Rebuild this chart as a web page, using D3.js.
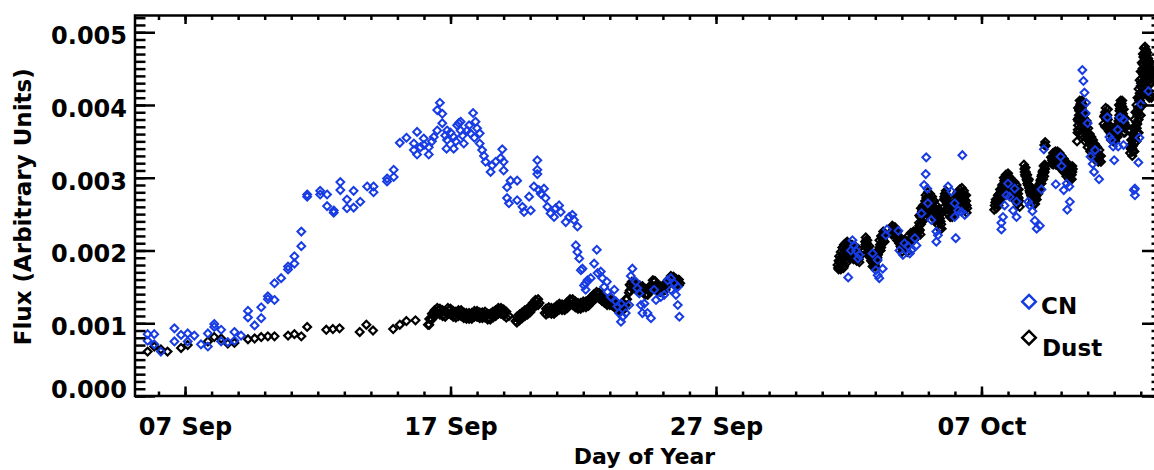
<!DOCTYPE html>
<html><head><meta charset="utf-8">
<script src="https://cdn.jsdelivr.net/npm/d3@7"></script>
<style>
body{margin:0;overflow:hidden;background:#fff}
text{font-family:"DejaVu Sans",sans-serif;font-weight:bold;fill:#000}
</style>
</head><body>
<svg id="c" width="1154" height="470"></svg>
<script>
// ---------------- DATA ----------------
const year = 2010;
const fluxUnit = 1e-3;            // flux values below are in units of 0.001
const seriesNames = ["CN", "Dust"];
const xTickDoy = [250, 260, 270, 280];           // 07 Sep, 17 Sep, 27 Sep, 07 Oct
const yTickValues = [0, 0.001, 0.002, 0.003, 0.004, 0.005];
const xDomainDoy = [248.115, 286.8];
const yDomain = [0, 0.00523];

// [day of year, flux/1e-3]
const cnData = [
[248.59,0.85],[248.84,0.85],[248.59,0.76],[248.84,0.71],[249.09,0.61],[249.60,0.93],[249.60,0.75],[249.85,0.84],
[250.10,0.86],[250.10,0.75],[250.35,0.83],[250.60,0.71],[250.86,0.68],[250.86,0.86],[251.10,0.99],[251.10,0.95],
[251.36,0.91],[251.36,0.75],[251.61,0.74],[251.86,0.88],[251.86,0.76],[252.11,0.83],[252.37,1.17],[252.37,1.08],
[252.62,0.97],[252.87,1.22],[252.87,1.07],[253.12,1.37],[253.12,1.33],[253.37,1.32],[253.37,1.55],[253.62,1.62],
[253.88,1.78],[253.88,1.74],[254.12,1.82],[254.12,1.92],[254.38,2.06],[254.38,2.26],[254.60,2.77],[254.60,2.74],
[255.09,2.82],[255.09,2.77],[255.35,2.77],[255.35,2.61],[255.60,2.52],[255.60,2.55],[255.85,2.94],[255.85,2.83],
[256.10,2.70],[256.10,2.58],[256.35,2.82],[256.35,2.59],[256.60,2.67],[256.86,2.88],[257.10,2.88],[257.10,2.80],
[257.61,2.99],[257.61,2.95],[257.86,3.11],[257.86,3.01],[258.09,3.48],[258.34,3.55],[258.62,3.47],[258.62,3.38],
[258.74,3.63],[258.74,3.32],[258.87,3.42],[258.99,3.54],[259.00,3.45],[259.18,3.32],[259.18,3.42],[259.30,3.50],
[259.37,3.56],[259.50,3.65],[259.50,3.93],[259.60,4.03],[259.69,3.88],[259.69,3.75],[259.80,3.58],[259.85,3.40],
[259.87,3.65],[259.87,3.52],[260.00,3.62],[260.12,3.40],[260.12,3.56],[260.20,3.50],[260.25,3.72],[260.31,3.75],
[260.38,3.77],[260.38,3.65],[260.45,3.58],[260.50,3.47],[260.63,3.65],[260.70,3.72],[260.75,3.61],[260.85,3.89],
[260.90,3.55],[260.94,3.77],[261.00,3.68],[261.10,3.61],[261.10,3.47],[261.19,3.38],[261.26,3.30],[261.32,3.22],
[261.51,3.08],[261.57,3.17],[261.70,3.22],[261.89,3.27],[261.95,3.39],[262.00,3.22],[262.00,3.10],[262.13,2.87],
[262.26,2.96],[262.13,2.72],[262.20,2.65],[262.51,2.96],[262.51,2.69],[262.71,2.60],[262.77,2.53],[262.96,2.74],
[263.02,2.55],[263.14,2.88],[263.27,3.24],[263.27,3.11],[263.27,3.05],[263.33,2.83],[263.40,2.78],[263.52,2.85],
[263.58,2.72],[263.65,2.60],[263.77,2.51],[263.90,2.46],[263.96,2.58],[264.09,2.62],[264.15,2.53],[264.34,2.39],
[264.47,2.46],[264.59,2.49],[264.65,2.42],[264.78,2.33],[264.72,2.07],[264.78,1.98],[264.85,1.89],[264.91,1.73],
[264.97,1.75],[265.03,1.52],[265.09,1.55],[265.09,1.46],[265.16,1.59],[265.28,1.62],[265.41,1.82],[265.51,2.01],
[265.54,1.69],[265.66,1.71],[265.72,1.62],[265.79,1.50],[265.89,1.57],[265.91,1.43],[266.04,1.36],[266.17,1.46],
[266.23,1.30],[266.29,1.23],[266.42,1.27],[266.35,1.14],[266.48,1.09],[266.42,1.02],[266.60,1.14],[266.73,1.25],
[266.85,1.75],[266.79,1.65],[266.98,1.57],[267.04,1.48],[267.11,1.41],[267.17,1.25],[267.23,1.14],[267.30,1.27],
[267.42,1.14],[267.55,1.07],[267.67,1.46],[267.74,1.32],[267.92,1.36],[268.05,1.39],[268.18,1.59],[268.30,1.62],
[268.43,1.55],[268.30,1.46],[268.49,1.39],[268.56,1.25],[268.62,1.09],[268.56,1.50],
[274.98,1.63],[275.08,2.00],[275.14,2.14],[275.20,2.07],[275.27,2.00],[275.35,1.89],[275.40,1.94],[275.90,1.96],
[276.09,1.87],[276.02,1.73],[276.09,1.66],[276.15,1.62],[276.28,1.75],[276.40,2.21],[276.44,2.29],[276.87,2.27],
[276.91,2.00],[277.04,1.94],[277.10,2.10],[277.23,2.06],[277.30,1.96],[277.36,2.00],[277.49,2.17],[277.55,2.07],
[277.74,2.51],[277.84,2.90],[277.90,3.05],[277.92,3.28],[277.96,2.85],[277.98,2.65],[278.11,2.42],[278.30,2.26],
[278.36,2.21],[278.30,2.12],[278.74,2.88],[278.87,2.81],[278.99,2.65],[278.99,2.46],[279.12,2.55],[279.25,2.53],
[279.37,2.49],[279.03,2.17],[279.28,3.31],
[280.75,2.29],[280.75,2.38],[280.81,2.46],[280.87,2.62],[280.94,2.76],[281.00,2.92],[281.06,2.74],[281.19,2.55],
[281.25,2.85],[281.32,2.67],[281.32,2.46],[281.76,2.67],[281.82,2.62],[281.92,2.54],[282.01,2.41],[282.08,2.30],
[282.20,2.34],[282.26,2.84],[282.35,3.39],[282.80,2.91],[282.98,3.29],[283.02,3.16],[283.10,2.83],[283.21,2.92],
[283.31,2.88],[283.33,2.67],[283.23,2.56],[283.80,4.48],[283.84,4.33],[283.88,4.17],[283.94,4.03],[283.92,3.89],
[284.00,3.75],[284.11,3.29],[284.19,3.19],[284.24,3.08],[284.28,3.38],[284.43,2.98],[284.74,3.83],[284.82,3.56],
[284.90,3.52],[284.96,3.43],[285.00,3.24],[285.13,3.66],[285.22,3.83],[285.35,3.80],[285.15,3.43],[285.35,3.45],
[285.78,2.85],[285.78,2.76],[285.74,2.83],[285.91,3.21],[285.95,3.55],[286.00,4.01],[286.29,4.19]
];

const dustData = [
// sparse early points
[248.59,0.61],[248.84,0.68],[249.09,0.64],[249.34,0.61],[249.85,0.66],[250.10,0.70],[250.86,0.75],[251.10,0.81],
[251.36,0.79],[251.61,0.72],[251.86,0.73],[252.37,0.78],[252.62,0.79],[252.87,0.81],[253.12,0.82],[253.37,0.82],
[253.88,0.83],[254.12,0.85],[254.38,0.82],[254.60,0.95],[255.32,0.91],[255.57,0.92],[255.82,0.93],[256.58,0.88],
[256.83,0.98],[257.08,0.90],[257.84,0.92],[258.09,0.98],[258.34,1.03],[258.68,1.04],
// dense September run
[259.15,0.98],[259.25,1.06],[259.35,1.12],[259.45,1.16],[259.55,1.18],[259.65,1.15],[259.75,1.12],[259.85,1.15],
[259.95,1.18],[260.05,1.14],[260.15,1.11],[260.25,1.13],[260.35,1.15],[260.45,1.12],[260.55,1.09],[260.65,1.11],
[260.75,1.08],[260.85,1.12],[260.95,1.14],[261.05,1.12],[261.15,1.09],[261.25,1.13],[261.35,1.10],[261.45,1.07],
[261.55,1.10],[261.65,1.13],[261.75,1.15],[261.85,1.18],[261.95,1.16],[262.05,1.13],[262.20,1.10],[262.45,1.03],
[262.55,1.06],[262.65,1.09],[262.75,1.12],[262.85,1.14],[262.95,1.17],[263.05,1.21],[263.15,1.26],[263.25,1.30],
[263.35,1.28],[263.55,1.14],[263.65,1.16],[263.75,1.19],[263.85,1.15],[263.95,1.18],[264.05,1.21],[264.15,1.24],
[264.25,1.20],[264.35,1.23],[264.45,1.27],[264.55,1.30],[264.65,1.28],[264.75,1.25],[264.85,1.22],[264.95,1.25],
[265.05,1.27],[265.15,1.25],[265.25,1.30],[265.35,1.34],[265.45,1.38],[265.55,1.40],[265.65,1.36],[265.75,1.33],
[265.85,1.30],[265.95,1.28],[266.05,1.30],[266.15,1.26],[266.25,1.23],[266.35,1.20],[266.45,1.19],[266.55,1.25],
[266.65,1.33],[266.72,1.42],[266.78,1.52],[266.88,1.54],[266.98,1.50],[267.08,1.47],[267.18,1.49],[267.28,1.45],
[267.38,1.40],[267.48,1.44],[267.58,1.52],[267.66,1.58],[267.75,1.50],[267.85,1.46],[267.95,1.48],[268.05,1.47],
[268.15,1.52],[268.25,1.60],[268.35,1.62],[268.45,1.58],[268.55,1.57],[268.65,1.55],
[259.20,0.98],[259.30,1.05],[259.40,1.10],[259.50,1.13],[259.60,1.12],[259.70,1.10],[259.80,1.09],[259.90,1.13],
[260.00,1.12],[260.10,1.09],[260.20,1.08],[260.30,1.10],[260.40,1.10],[260.50,1.07],[260.60,1.06],[260.70,1.06],
[260.80,1.06],[260.90,1.09],[261.00,1.09],[261.10,1.07],[261.20,1.07],[261.30,1.08],[261.40,1.05],[261.50,1.05],
[261.60,1.08],[261.70,1.10],[261.80,1.13],[261.90,1.13],[262.00,1.11],[262.10,1.08],[262.50,1.01],[262.60,1.04],
[262.70,1.07],[262.80,1.10],[262.90,1.12],[263.00,1.15],[263.10,1.20],[263.20,1.24],[263.30,1.25],[263.60,1.12],
[263.70,1.14],[263.80,1.13],[263.90,1.13],[264.00,1.16],[264.10,1.19],[264.20,1.18],[264.30,1.18],[264.40,1.21],
[264.50,1.25],[264.60,1.25],[264.70,1.22],[264.80,1.20],[264.90,1.20],[265.00,1.22],[265.10,1.22],[265.20,1.24],
[265.30,1.28],[265.40,1.32],[265.50,1.35],[265.60,1.34],[265.70,1.31],[265.80,1.28],[265.90,1.25],[266.00,1.25],
[266.10,1.24],[266.20,1.21],[266.30,1.18],[266.40,1.16],[266.50,1.18],[266.60,1.25],[266.75,1.45],[266.83,1.49],
[266.93,1.48],[267.03,1.45],[267.13,1.44],[267.23,1.43],[267.33,1.39],[267.43,1.39],[267.53,1.44],[267.62,1.51],
[267.70,1.50],[267.80,1.44],[267.90,1.43],[268.00,1.44],[268.10,1.46],[268.20,1.52],[268.30,1.57],[268.40,1.56],
[268.50,1.53],[268.60,1.52],
[259.20,1.06],[259.30,1.13],[259.40,1.18],[259.50,1.21],[259.60,1.20],[259.70,1.18],[259.80,1.17],[259.90,1.21],
[260.00,1.20],[260.10,1.17],[260.20,1.16],[260.30,1.18],[260.40,1.18],[260.50,1.15],[260.60,1.14],[260.70,1.14],
[260.80,1.14],[260.90,1.17],[261.00,1.17],[261.10,1.15],[261.20,1.15],[261.30,1.16],[261.40,1.13],[261.50,1.13],
[261.60,1.16],[261.70,1.18],[261.80,1.21],[261.90,1.21],[262.00,1.19],[262.10,1.16],[262.50,1.09],[262.60,1.12],
[262.70,1.15],[262.80,1.18],[262.90,1.20],[263.00,1.23],[263.10,1.28],[263.20,1.32],[263.30,1.33],[263.60,1.20],
[263.70,1.22],[263.80,1.21],[263.90,1.21],[264.00,1.24],[264.10,1.27],[264.20,1.26],[264.30,1.26],[264.40,1.29],
[264.50,1.33],[264.60,1.33],[264.70,1.30],[264.80,1.28],[264.90,1.28],[265.00,1.30],[265.10,1.30],[265.20,1.32],
[265.30,1.36],[265.40,1.40],[265.50,1.43],[265.60,1.42],[265.70,1.39],[265.80,1.36],[265.90,1.33],[266.00,1.33],
[266.10,1.32],[266.20,1.29],[266.30,1.26],[266.40,1.24],[266.50,1.26],[266.60,1.33],[266.75,1.53],[266.83,1.57],
[266.93,1.56],[267.03,1.53],[267.13,1.52],[267.23,1.51],[267.33,1.47],[267.43,1.47],[267.53,1.52],[267.62,1.59],
[267.70,1.58],[267.80,1.52],[267.90,1.51],[268.00,1.52],[268.10,1.54],[268.20,1.60],[268.30,1.65],[268.40,1.64],
[268.50,1.61],[268.60,1.60],
// October clusters
[274.58,1.80],[274.62,1.86],[274.66,1.84],[274.70,1.90],[274.72,1.80],[274.76,1.95],[274.80,1.88],[274.82,1.78],
[274.86,2.00],[274.90,1.92],[274.92,1.83],[274.96,2.06],[275.00,2.10],[275.02,1.98],[275.05,1.90],[275.10,2.05],
[275.14,1.96],[275.18,1.88],[275.22,2.00],[275.26,1.92],[275.30,1.86],[275.34,1.95],[275.38,1.88],[275.42,1.92],
[274.60,1.76],[274.68,1.78],[274.74,1.86],[274.78,1.82],[274.84,1.92],[274.88,1.86],[274.94,1.96],[274.98,2.02],
[275.04,2.04],[275.08,1.96],[275.12,2.00],[275.16,1.92],[275.20,1.94],[275.24,1.96],[275.28,1.90],[275.32,1.90],
[275.36,1.92],[275.40,1.96],
[274.64,1.92],[274.70,1.98],[274.76,2.04],[274.82,2.08],[274.88,2.10],[274.94,2.12],[275.00,2.02],[275.06,2.06],
[275.12,2.08],[275.18,2.02],[275.24,2.06],[275.30,1.98],[275.36,2.02],[275.40,1.84],[274.62,1.74],[274.70,1.74],
[274.80,1.76],
[275.62,2.12],[275.65,2.05],[275.68,2.10],[275.70,1.98],[275.74,2.02],[275.76,1.92],[275.80,1.95],[275.84,1.86],
[275.88,1.90],[275.92,1.82],[275.96,1.86],[276.00,1.84],[276.04,1.92],[276.08,1.90],[276.12,1.98],[276.16,2.04],
[276.20,2.00],[276.24,2.10],[276.28,2.16],[276.32,2.20],[276.35,2.12],
[275.63,2.08],[275.66,2.14],[275.72,2.04],[275.78,1.98],[275.82,1.90],[275.86,1.92],[275.90,1.86],[275.94,1.88],
[275.98,1.80],[276.02,1.88],[276.06,1.86],[276.10,1.94],[276.14,2.00],[276.18,2.08],[276.22,2.04],[276.26,2.12],
[276.30,2.14],[276.33,2.24],
[275.64,2.18],[275.70,2.14],[275.78,2.06],[276.00,1.96],[276.06,1.98],[276.16,2.14],[276.22,2.20],[276.30,2.26],
[276.36,2.22],[275.90,1.78],[276.00,1.78],
[276.62,2.22],[276.66,2.28],[276.70,2.30],[276.74,2.24],[276.78,2.20],[276.82,2.14],[276.86,2.18],[276.90,2.10],
[276.95,2.06],[277.00,2.10],[277.05,2.04],[277.10,2.08],[277.15,2.02],[277.20,2.06],[277.25,2.12],[277.30,2.10],
[277.35,2.16],[277.40,2.20],[277.45,2.14],[277.50,2.18],
[276.64,2.24],[276.68,2.32],[276.72,2.26],[276.76,2.28],[276.80,2.18],[276.84,2.20],[276.88,2.14],[276.92,2.14],
[276.98,2.04],[277.02,2.06],[277.08,2.04],[277.12,2.02],[277.18,2.04],[277.22,2.08],[277.28,2.14],[277.32,2.14],
[277.38,2.12],[277.42,2.18],[277.48,2.20],
[276.64,2.34],[276.74,2.32],[276.84,2.26],[276.94,2.18],[277.04,2.14],[277.14,2.14],[277.24,2.20],[277.34,2.24],
[277.44,2.26],[277.50,2.26],[277.00,1.98],[277.20,1.98],
[277.58,2.24],[277.62,2.30],[277.65,2.38],[277.68,2.28],[277.70,2.46],[277.74,2.40],[277.76,2.54],[277.80,2.62],
[277.84,2.50],[277.88,2.68],[277.92,2.72],[277.96,2.62],[278.00,2.74],[278.04,2.70],[278.08,2.64],[278.12,2.58],
[278.16,2.66],[278.20,2.60],[278.24,2.52],[278.28,2.56],[278.32,2.46],[278.36,2.50],[278.40,2.40],[278.44,2.44],
[278.48,2.36],
[277.60,2.28],[277.64,2.26],[277.66,2.34],[277.72,2.36],[277.74,2.50],[277.78,2.56],[277.82,2.58],[277.86,2.56],
[277.90,2.64],[277.94,2.68],[277.98,2.70],[278.02,2.66],[278.06,2.72],[278.10,2.62],[278.14,2.62],[278.18,2.56],
[278.22,2.56],[278.26,2.50],[278.30,2.52],[278.34,2.42],[278.38,2.46],[278.42,2.38],[278.46,2.40],
[277.60,2.20],[277.70,2.22],[277.78,2.40],[277.86,2.44],[277.94,2.50],[278.02,2.54],[278.10,2.50],[278.18,2.46],
[278.26,2.42],[278.34,2.36],[278.42,2.30],[278.50,2.30],[277.90,2.76],[277.98,2.80],[278.06,2.78],[278.14,2.74],
[278.22,2.68],[278.30,2.62],[278.38,2.56],[278.46,2.50],[277.72,2.58],[277.66,2.48],
[278.58,2.70],[278.62,2.78],[278.66,2.72],[278.70,2.64],[278.74,2.58],[278.78,2.66],[278.82,2.54],[278.86,2.60],
[278.90,2.52],[278.94,2.62],[278.98,2.56],[279.02,2.68],[279.06,2.62],[279.10,2.74],[279.14,2.66],[279.18,2.78],
[279.22,2.72],[279.26,2.80],[279.30,2.70],[279.34,2.76],[279.38,2.64],[279.42,2.68],[279.46,2.58],
[278.60,2.74],[278.64,2.70],[278.68,2.76],[278.72,2.62],[278.76,2.62],[278.80,2.58],[278.84,2.56],[278.88,2.56],
[278.92,2.58],[278.96,2.52],[279.00,2.62],[279.04,2.64],[279.08,2.70],[279.12,2.70],[279.16,2.74],[279.20,2.76],
[279.24,2.76],[279.28,2.74],[279.32,2.72],[279.36,2.70],[279.40,2.62],[279.44,2.62],
[278.60,2.60],[278.66,2.56],[278.74,2.50],[278.82,2.46],[278.90,2.46],[278.98,2.48],[279.06,2.54],[279.14,2.58],
[279.22,2.62],[279.30,2.62],[279.38,2.56],[279.44,2.52],[278.66,2.82],[278.94,2.70],[279.02,2.76],[279.10,2.80],
[279.18,2.84],[279.26,2.86],[279.34,2.82],[279.42,2.76],
[280.50,2.62],[280.54,2.70],[280.58,2.64],[280.62,2.76],[280.66,2.70],[280.70,2.84],[280.74,2.78],[280.78,2.90],
[280.82,2.84],[280.86,2.96],[280.90,2.90],[280.94,3.00],[280.98,2.94],[281.02,3.02],[281.06,2.92],[281.10,2.86],
[281.14,2.94],[281.18,2.80],[281.22,2.88],[281.26,2.76],[281.30,2.84],[281.34,2.72],[281.38,2.78],[281.42,2.68],
[280.52,2.66],[280.56,2.68],[280.60,2.70],[280.64,2.72],[280.68,2.78],[280.72,2.80],[280.76,2.84],[280.80,2.88],
[280.84,2.90],[280.88,2.92],[280.92,2.96],[280.96,2.96],[281.00,2.98],[281.04,2.96],[281.08,2.88],[281.12,2.90],
[281.16,2.86],[281.20,2.84],[281.24,2.82],[281.28,2.80],[281.32,2.78],[281.36,2.74],[281.40,2.72],
[280.48,2.56],[280.56,2.58],[280.64,2.62],[280.72,2.70],[280.80,2.74],[280.88,2.80],[280.96,2.84],[281.04,2.82],
[281.12,2.78],[281.20,2.72],[281.28,2.68],[281.36,2.64],[281.44,2.60],[280.84,3.00],[280.92,3.04],[281.00,3.06],
[281.08,3.00],[281.16,2.96],[281.24,2.94],[281.32,2.90],[281.40,2.84],
[281.62,3.12],[281.64,3.04],[281.67,3.08],[281.70,2.98],[281.73,2.92],[281.76,2.96],[281.79,2.86],[281.83,2.80],
[281.87,2.76],[281.91,2.72],[281.95,2.68],[282.00,2.70],[282.05,2.74],[282.10,2.80],[282.15,2.86],[282.20,2.92],
[282.24,2.98],[282.28,3.04],[282.32,3.10],[282.36,3.02],[282.40,3.12],[282.37,3.45],[282.40,3.49],[282.42,3.44],
[281.63,3.08],[281.66,3.02],[281.69,3.03],[281.72,2.96],[281.75,2.90],[281.78,2.90],[281.81,2.82],[281.85,2.78],
[281.89,2.74],[281.93,2.70],[281.97,2.72],[282.02,2.74],[282.07,2.78],[282.12,2.84],[282.17,2.90],[282.22,2.96],
[282.26,3.02],[282.30,3.08],[282.34,3.06],[282.38,3.08],[282.41,3.16],
[281.60,3.18],[281.66,3.14],[281.72,3.04],[281.78,2.98],[281.84,2.88],[281.90,2.82],[281.96,2.76],[282.02,2.64],
[282.08,2.70],[282.14,2.78],[282.20,2.84],[282.26,2.92],[282.32,2.98],[282.38,3.18],[282.34,3.16],[281.90,2.66],
[281.98,2.64],
[282.64,3.20],[282.68,3.26],[282.72,3.30],[282.76,3.22],[282.80,3.32],[282.84,3.26],[282.88,3.30],[282.92,3.24],
[282.96,3.28],[283.00,3.20],[283.04,3.24],[283.08,3.16],[283.12,3.20],[283.16,3.10],[283.20,3.16],[283.24,3.06],
[283.28,3.12],[283.32,3.02],[283.36,3.10],[283.40,3.04],[283.44,3.12],
[282.66,3.24],[282.70,3.28],[282.74,3.26],[282.78,3.28],[282.82,3.28],[282.86,3.28],[282.90,3.26],[282.94,3.26],
[282.98,3.24],[283.02,3.22],[283.06,3.20],[283.10,3.18],[283.14,3.14],[283.18,3.14],[283.22,3.10],[283.26,3.10],
[283.30,3.06],[283.34,3.06],[283.38,3.08],[283.42,3.08],
[282.62,3.28],[282.70,3.34],[282.78,3.36],[282.86,3.36],[282.94,3.34],[283.02,3.30],[283.10,3.26],[283.18,3.22],
[283.26,3.18],[283.34,3.16],[283.42,3.16],[282.70,3.18],[282.80,3.18],[282.90,3.16],[283.00,3.12],[283.10,3.08],
[283.20,3.02],[283.30,2.98],[283.40,2.98],
[283.62,3.62],[283.64,3.72],[283.66,3.82],[283.68,3.92],[283.70,3.98],[283.74,4.02],[283.78,3.96],[283.80,3.86],
[283.84,3.90],[283.86,3.76],[283.88,3.66],[283.92,3.70],[283.94,3.58],[283.98,3.62],[284.00,3.52],[284.04,3.56],
[284.08,3.46],[284.12,3.50],[284.16,3.40],[284.20,3.44],[284.24,3.34],[284.28,3.38],[284.32,3.30],[284.36,3.34],
[284.40,3.26],[284.44,3.30],
[283.63,3.66],[283.65,3.78],[283.67,3.86],[283.69,3.94],[283.72,4.00],[283.76,3.98],[283.79,3.92],[283.82,3.88],
[283.85,3.82],[283.87,3.72],[283.90,3.68],[283.93,3.64],[283.96,3.60],[283.99,3.56],[284.02,3.54],[284.06,3.50],
[284.10,3.48],[284.14,3.44],[284.18,3.42],[284.22,3.38],[284.26,3.36],[284.30,3.34],[284.34,3.32],[284.38,3.30],
[284.42,3.28],
[283.60,3.50],[283.62,3.80],[283.64,3.96],[283.70,4.06],[283.78,4.06],[283.84,4.00],[283.90,3.88],[283.96,3.78],
[284.02,3.68],[284.08,3.60],[284.14,3.56],[284.20,3.52],[284.28,3.46],[284.36,3.42],[284.44,3.38],[284.50,3.30],
[283.70,3.60],[283.80,3.58],[283.90,3.50],[284.00,3.42],[284.10,3.36],[284.20,3.30],[284.30,3.24],[284.40,3.22],
[284.50,3.22],
[284.62,3.84],[284.66,3.90],[284.70,3.80],[284.74,3.86],[284.78,3.74],[284.82,3.68],[284.86,3.62],[284.90,3.58],
[284.94,3.64],[284.98,3.56],[285.02,3.62],[285.06,3.56],[285.10,3.66],[285.14,3.74],[285.18,3.82],[285.20,3.92],
[285.24,3.98],[285.28,4.02],[285.32,3.94],[285.34,3.84],[285.38,3.76],[285.40,3.68],[285.36,3.62],
[284.64,3.86],[284.68,3.84],[284.72,3.82],[284.76,3.80],[284.80,3.72],[284.84,3.64],[284.88,3.60],[284.92,3.60],
[284.96,3.60],[285.00,3.58],[285.04,3.58],[285.08,3.60],[285.12,3.70],[285.16,3.78],[285.19,3.86],[285.22,3.95],
[285.26,4.00],[285.30,3.98],[285.33,3.88],[285.36,3.80],[285.39,3.72],
[284.60,3.74],[284.66,3.70],[284.72,3.70],[284.80,3.64],[284.88,3.52],[284.96,3.50],[285.04,3.50],[285.12,3.56],
[285.20,3.70],[285.26,3.80],[285.32,3.72],[285.40,3.62],[285.44,3.72],[284.68,3.96],[284.76,3.94],[285.18,4.00],
[285.24,4.06],[285.30,4.06],[285.36,3.94],[285.42,3.82],
[285.62,3.40],[285.66,3.46],[285.70,3.36],[285.72,3.52],[285.76,3.60],[285.78,3.48],[285.80,3.68],[285.84,3.76],
[285.86,3.62],[285.88,3.86],[285.90,3.96],[285.92,3.80],[285.94,4.06],[285.96,4.16],[285.98,3.98],[286.00,4.26],
[286.02,4.36],[286.04,4.12],[286.06,4.46],[286.08,4.56],[286.10,4.66],[286.12,4.70],[286.14,4.30],[286.16,4.62],
[286.18,4.74],[286.20,4.50],[286.22,4.68],[286.24,4.40],[286.26,4.58],[286.28,4.20],[286.30,4.46],[286.32,4.30],
[286.34,4.52],[286.36,4.36],[286.38,4.44],
[285.64,3.42],[285.68,3.40],[285.71,3.44],[285.74,3.56],[285.77,3.54],[285.79,3.58],[285.82,3.72],[285.85,3.68],
[285.87,3.74],[285.89,3.90],[285.91,3.88],[285.93,3.94],[285.95,4.10],[285.97,4.06],[285.99,4.12],[286.01,4.30],
[286.03,4.24],[286.05,4.30],[286.07,4.50],[286.09,4.42],[286.11,4.56],[286.13,4.50],[286.15,4.46],[286.17,4.68],
[286.19,4.60],[286.21,4.58],[286.23,4.54],[286.25,4.50],[286.27,4.48],[286.29,4.34],[286.31,4.38],[286.33,4.40],
[286.35,4.44],[286.37,4.48],
[285.60,3.34],[285.64,3.52],[285.68,3.60],[285.72,3.68],[285.76,3.80],[285.80,3.90],[285.84,4.00],[285.88,4.10],
[285.92,4.22],[285.96,4.34],[286.00,4.46],[286.04,4.58],[286.08,4.70],[286.12,4.78],[286.16,4.80],[286.20,4.76],
[286.24,4.72],[286.28,4.64],[286.32,4.60],[286.36,4.58],[286.40,4.50],[286.40,4.30],[286.40,4.10],[286.36,4.14],
[286.32,4.10],[286.24,4.16],[286.16,4.20],[286.08,4.00],[286.00,3.86],[285.92,3.62],[285.84,3.50],[285.76,3.36],
[285.68,3.30]
];

// ---------------- CHART ----------------
const colors = {CN: "#173ce4", Dust: "#000000"};
const svg = d3.select("#c");
const L = 135, R = 1162, T = 15.5, B = 396;

const doyToDate = d => new Date(Date.UTC(year, 0, 1) + (d - 1) * 864e5);
const x = d3.scaleUtc().domain(xDomainDoy.map(doyToDate)).range([L, R]);
const y = d3.scaleLinear().domain(yDomain).range([B, T]);

const diamond = r => `M0,${-r}L${r},0L0,${r}L${-r},0Z`;

// data marks: dust first, CN on top
function drawSeries(data, color, sw) {
  svg.append("g").selectAll("path").data(data).join("path")
    .attr("d", diamond(3.9))
    .attr("transform", d => `translate(${x(doyToDate(d[0]))},${y(d[1] * fluxUnit)})`)
    .attr("fill", "none").attr("stroke", color).attr("stroke-width", sw);
}
drawSeries(dustData, colors.Dust, 2.2);
drawSeries(cnData, colors.CN, 2);

// axes
const tickW = 2.5;
const majorX = xTickDoy.map(doyToDate);
const minorX = d3.utcDay.range(x.domain()[0], x.domain()[1]);
const minorY = d3.range(0, 53).map(i => i * 0.0001);
const fmtX = d3.utcFormat("%d %b");
const fmtY = d3.format(".3f");

function styleAxis(g) {
  g.select(".domain").remove();
  g.selectAll("line").attr("stroke", "#000").attr("stroke-width", tickW);
  g.selectAll("text").attr("fill", "#000").style("font-size", "24px").style("font-family", "DejaVu Sans").style("font-weight", "bold");
}
// bottom
svg.append("g").attr("transform", `translate(0,${B})`)
  .call(d3.axisBottom(x).tickValues(minorX).tickSize(-4.5).tickFormat("")).call(styleAxis);
svg.append("g").attr("transform", `translate(0,${B})`)
  .call(d3.axisBottom(x).tickValues(majorX).tickSize(-9.5).tickPadding(0).tickFormat(fmtX)).call(styleAxis)
  .selectAll("text").attr("y", 38.5).attr("dy", null).style("word-spacing", "1px");
// top
svg.append("g").attr("transform", `translate(0,${T})`)
  .call(d3.axisTop(x).tickValues(minorX).tickSize(-4.5).tickFormat("")).call(styleAxis);
svg.append("g").attr("transform", `translate(0,${T})`)
  .call(d3.axisTop(x).tickValues(majorX).tickSize(-8.5).tickFormat("")).call(styleAxis);
// left
svg.append("g").attr("transform", `translate(${L},0)`)
  .call(d3.axisLeft(y).tickValues(minorY).tickSize(-10.5).tickFormat("")).call(styleAxis);
const yl = svg.append("g").attr("transform", `translate(${L},0)`)
  .call(d3.axisLeft(y).tickValues(yTickValues).tickSize(-20).tickPadding(8).tickFormat(fmtY)).call(styleAxis);
yl.selectAll("text").attr("dy", null).attr("y", v => Math.min(11.5, B + 1 - y(v)));
// right
svg.append("g").attr("transform", `translate(${R},0)`)
  .call(d3.axisRight(y).tickValues(minorY).tickSize(-10.5).tickFormat("")).call(styleAxis);
svg.append("g").attr("transform", `translate(${R},0)`)
  .call(d3.axisRight(y).tickValues(yTickValues).tickSize(-20).tickFormat("")).call(styleAxis);

// frame
svg.append("rect").attr("x", L).attr("y", T).attr("width", R - L).attr("height", B - T)
  .attr("fill", "none").attr("stroke", "#000").attr("stroke-width", 2.5);

// axis titles
svg.append("text").attr("x", (L + R) / 2 - 4).attr("y", 464).attr("text-anchor", "middle")
  .style("font-size", "22px").text("Day of Year");
svg.append("text").attr("transform", `translate(31,${(T + B) / 2 + 1}) rotate(-90)`).attr("text-anchor", "middle")
  .style("font-size", "23px").text("Flux (Arbitrary Units)");

// legend
const legendRows = [{name: seriesNames[0], cy: 301.7, ty: 313.5, tx: 1041},
                    {name: seriesNames[1], cy: 337.7, ty: 356, tx: 1042}];
const lg = svg.append("g");
legendRows.forEach(r => {
  lg.append("path").attr("d", diamond(6.8)).attr("transform", `translate(1029,${r.cy})`)
    .attr("fill", "none").attr("stroke", colors[r.name]).attr("stroke-width", 2.5);
  lg.append("text").attr("x", r.tx).attr("y", r.ty).style("font-size", "23px").text(r.name);
});
</script>
</body></html>
